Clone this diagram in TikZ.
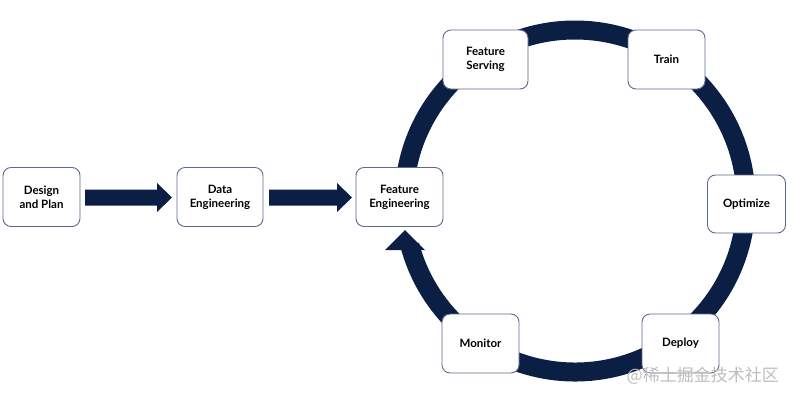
\documentclass[tikz,border=0pt]{standalone}
\usepackage{fontspec}
\setmainfont{Lato}
\newfontfamily\cjkwm{Noto Sans CJK SC}
\definecolor{navy}{HTML}{0B1F45}
\definecolor{boxline}{HTML}{5C6B8C}
\definecolor{wmgray}{HTML}{BDBDBD}
\begin{document}
\begin{tikzpicture}[x=1pt,y=1pt,
  stagebox/.style={draw=boxline, line width=0.9pt, fill=white, rounded corners=8pt,
    align=center, font=\fontsize{11.5}{14}\selectfont\bfseries, inner sep=2pt,
    minimum height=59pt},
  blockarrow/.style={fill=navy, draw=none}]
\useasboundingbox (0,0) rectangle (793,-400);
% ring
\draw[navy, line width=19pt] (575,-201) ++(175:171) arc[start angle=175, end angle=-165, radius=171];
\fill[navy] (385,-250) -- (405,-230) -- (425,-250) -- cycle;
% block arrows
\fill[blockarrow] (85,-189.5) -- (157,-189.5) -- (157,-183) -- (172,-197.5) -- (157,-212) -- (157,-205.5) -- (85,-205.5) -- cycle;
\fill[blockarrow] (269,-189.5) -- (337,-189.5) -- (337,-183) -- (352,-197.5) -- (337,-212) -- (337,-205.5) -- (269,-205.5) -- cycle;
% boxes
\node[stagebox, minimum width=77pt] (design) at (41.5,-197) {Design\\and Plan};
\node[stagebox, minimum width=86pt] (data) at (220,-197) {Data\\Engineering};
\node[stagebox, minimum width=87pt] (fe) at (399.5,-197) {Feature\\Engineering};
\node[stagebox, minimum width=85pt] (fs) at (485.5,-59.5) {Feature\\Serving};
\node[stagebox, minimum width=77pt] (train) at (666.5,-59.5) {Train};
\node[stagebox, minimum width=78pt, minimum height=58pt] (opt) at (746.5,-204) {Optimize};
\node[stagebox, minimum width=77pt] (deploy) at (680.5,-343.5) {Deploy};
\node[stagebox, minimum width=77pt] (monitor) at (480.5,-343.5) {Monitor};
% watermark
\node[text=wmgray, font=\cjkwm\fontsize{17}{20}\selectfont, anchor=east, inner sep=0pt] (wm) at (779,-376) {@稀土掘金技术社区};
\end{tikzpicture}
\end{document}
